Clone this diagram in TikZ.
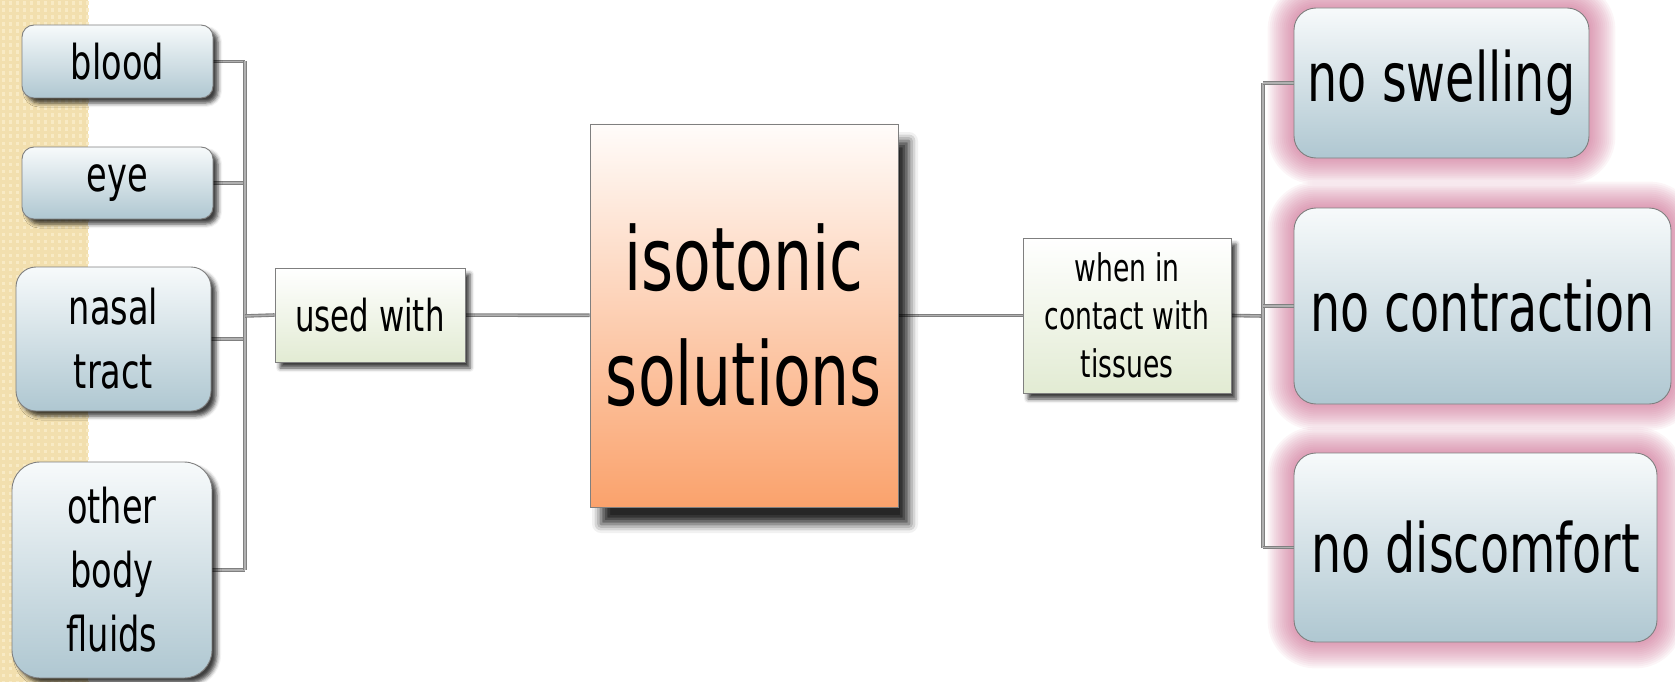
\documentclass[tikz,border=0pt]{standalone}
\usepackage{fontspec}
\newfontfamily\mapfont[FakeStretch=0.7]{DejaVu Sans}
\usetikzlibrary{backgrounds,shadows.blur}

\definecolor{stripbase}{HTML}{F2DFAE}
\definecolor{striplight}{HTML}{F8EAC4}
\definecolor{boxtop}{HTML}{F7FAFB}
\definecolor{boxbot}{HTML}{AFC7D1}
\definecolor{lbltop}{HTML}{FFFFFF}
\definecolor{lblbot}{HTML}{E2EBD3}
\definecolor{isotop}{HTML}{FFFCFA}
\definecolor{isobot}{HTML}{FAA26C}
\definecolor{edgegray}{HTML}{7F7F7F}
\definecolor{wiregray}{HTML}{808080}
\definecolor{wirelight}{HTML}{B0B0B0}
\definecolor{glowpink}{HTML}{C4557F}

\newcommand{\textsz}[2]{\mapfont\fontsize{#1}{#2}\selectfont}

\tikzset{
  base/.style={draw=edgegray, line width=0.9pt, align=center, inner sep=0pt},
  fluidbox/.style={base, top color=boxtop, bottom color=boxbot,
    rounded corners=#1, font=\textsz{48}{64},
    blur shadow={shadow xshift=5pt, shadow yshift=-5pt, shadow blur radius=4pt,
      shadow opacity=75}},
  fluidbox/.default=12pt,
  effectbox/.style={base, top color=boxtop, bottom color=boxbot,
    rounded corners=22pt, font=\textsz{68}{80}},
  glow/.style={draw=glowpink, line width=#1, opacity=0.06, rounded corners=22pt,
    line join=round},
  linkbox/.style={base, top color=lbltop, bottom color=lblbot,
    blur shadow={shadow xshift=5pt, shadow yshift=-6pt, shadow blur radius=4pt,
      shadow opacity=75}},
  mainbox/.style={base, top color=isotop, bottom color=isobot,
    font=\textsz{88}{115},
    blur shadow={shadow xshift=11pt, shadow yshift=-17pt, shadow blur radius=9pt,
      shadow opacity=85}},
  wire/.style={draw=wiregray, line width=1.1pt, double=wirelight,
    double distance=1.4pt}
}

\begin{document}
\begin{tikzpicture}[x=1pt,y=-1pt]
  \useasboundingbox (0,0) rectangle (1675,682);

  % left strip
  \fill[stripbase] (0,0) rectangle (88,682);
  \foreach \i in {0,...,12}
    \foreach \j in {0,...,97}
      \fill[striplight] (\i*7+1.5,\j*7+1.5) rectangle ++(3.5,3.5);

  % things it is used with
  \node[fluidbox, minimum width=191pt, minimum height=73pt] (blood) at (117.5,61.5) {blood};
  \node[fluidbox, minimum width=191pt, minimum height=72pt] (eye) at (117.5,183) {eye};
  \node[fluidbox=20pt, minimum width=195pt, minimum height=144pt] (nasal) at (113.5,339)
    {nasal\\tract};
  \node[fluidbox=28pt, minimum width=200pt, minimum height=216pt] (fluids) at (112,570)
    {other\\body\\fluids};

  % middle row
  \node[linkbox, font=\textsz{44}{56}, minimum width=190pt, minimum height=94pt]
    (used) at (370,315) {used with};
  \node[mainbox, minimum width=308pt, minimum height=383pt] (iso) at (744,315.5)
    {isotonic\\solutions};
  \node[linkbox, font=\textsz{38}{48}, minimum width=208pt, minimum height=155pt]
    (contact) at (1127,315.5) {when in\\contact with\\tissues};

  % effects
  \node[effectbox, minimum width=295pt, minimum height=150pt] (swell) at (1441.5,83)
    {no swelling};
  \node[effectbox, minimum width=377pt, minimum height=196pt] (contr) at (1482.5,306)
    {no contraction};
  \node[effectbox, minimum width=363pt, minimum height=189pt] (disc) at (1475.5,547.5)
    {no discomfort};

  % connectors
  \coordinate (lbus) at (245,316);
  \coordinate (rbus) at (1263,316);
  \begin{pgfonlayer}{background}
    % pink glow round the effects
    \foreach \n in {swell,contr,disc}
      \foreach \w in {4,8,...,52}
        \draw[glow=\w pt] (\n.north west) rectangle (\n.south east);
    \foreach \n in {blood,eye,nasal,fluids}
      \draw[wire] (\n.east) -- (\n.east -| lbus);
    \draw[wire] (blood.east -| lbus) -- (fluids.east -| lbus);
    \draw[wire] (lbus) -- (used.west);
    \draw[wire] (used) -- (iso);
    \draw[wire] (iso) -- (contact);
    \draw[wire] (contact.east) -- (rbus);
    \draw[wire] (swell.west -| rbus) -- (disc.west -| rbus);
    \foreach \n in {swell,contr,disc}
      \draw[wire] (\n.west -| rbus) -- (\n.west);
  \end{pgfonlayer}
\end{tikzpicture}
\end{document}
